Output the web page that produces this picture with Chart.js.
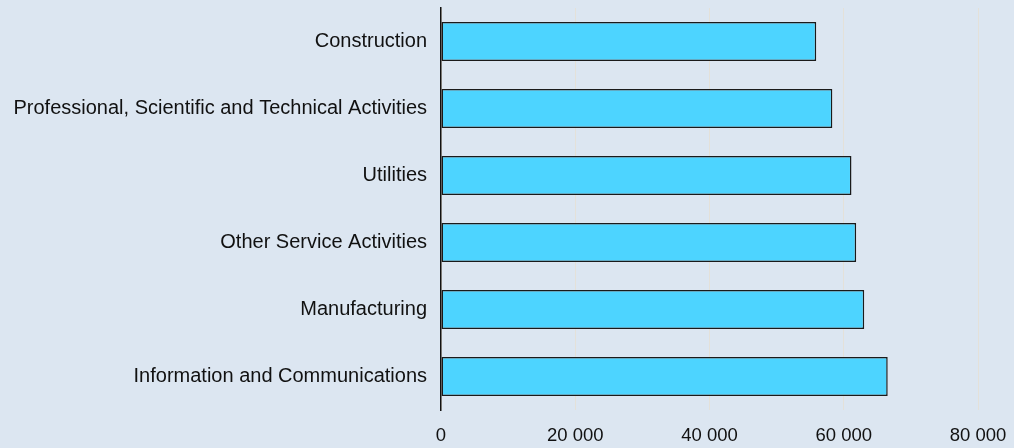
<!DOCTYPE html>
<html>
<head>
<meta charset="utf-8">
<script src="https://cdn.jsdelivr.net/npm/chart.js@4"></script>
<style>
  html, body { margin: 0; padding: 0; background: #dce6f1; }
  #wrap { width: 1014px; height: 448px; position: relative; }
</style>
</head>
<body>
<div id="wrap"><canvas id="chart"></canvas></div>
<script>
// Industry labels, top to bottom
const categories = [
  'Construction',
  'Professional, Scientific and Technical Activities',
  'Utilities',
  'Other Service Activities',
  'Manufacturing',
  'Information and Communications'
];

// Values
const values = [55900, 58300, 61150, 61850, 63050, 66550];

// X axis ticks
const tickValues = [0, 20000, 40000, 60000, 80000];

const textColor = '#111111';
const fontFamily = 'Liberation Sans, Arial, sans-serif';

function formatThousands(v) {
  return String(v).replace(/\B(?=(\d{3})+(?!\d))/g, ' ');
}

new Chart(document.getElementById('chart'), {
  type: 'bar',
  data: {
    labels: categories,
    datasets: [{
      data: values,
      backgroundColor: '#4dd4ff',
      borderColor: '#1a1a1a',
      borderWidth: 1.5,
      borderSkipped: false,
      categoryPercentage: 1,
      barPercentage: 0.58
    }]
  },
  options: {
    indexAxis: 'y',
    responsive: true,
    maintainAspectRatio: false,
    animation: false,
    layout: { padding: { top: 8, right: 36, left: 0, bottom: 0 } },
    scales: {
      x: {
        min: 0,
        max: 80000,
        afterBuildTicks: axis => { axis.ticks = tickValues.map(v => ({ value: v })); },
        afterFit: axis => {
          axis.height = 38;
          axis.paddingLeft = 0;
          axis.paddingRight = 0;
        },
        border: { display: false },
        grid: { color: 'rgba(228, 224, 214, 0.9)', drawTicks: false, lineWidth: 1 },
        ticks: {
          color: textColor,
          font: { family: fontFamily, size: 18.5 },
          padding: 15,
          maxRotation: 0,
          callback: v => formatThousands(v)
        }
      },
      y: {
        afterFit: axis => {
          axis.width = 441;
          axis.paddingTop = 0;
          axis.paddingBottom = 0;
        },
        border: { display: true, color: '#111111', width: 1.5 },
        grid: { display: false },
        ticks: {
          color: textColor,
          font: { family: fontFamily, size: 20 },
          padding: 6
        }
      }
    },
    plugins: {
      legend: { display: false },
      tooltip: { enabled: false }
    }
  }
});
</script>
</body>
</html>
